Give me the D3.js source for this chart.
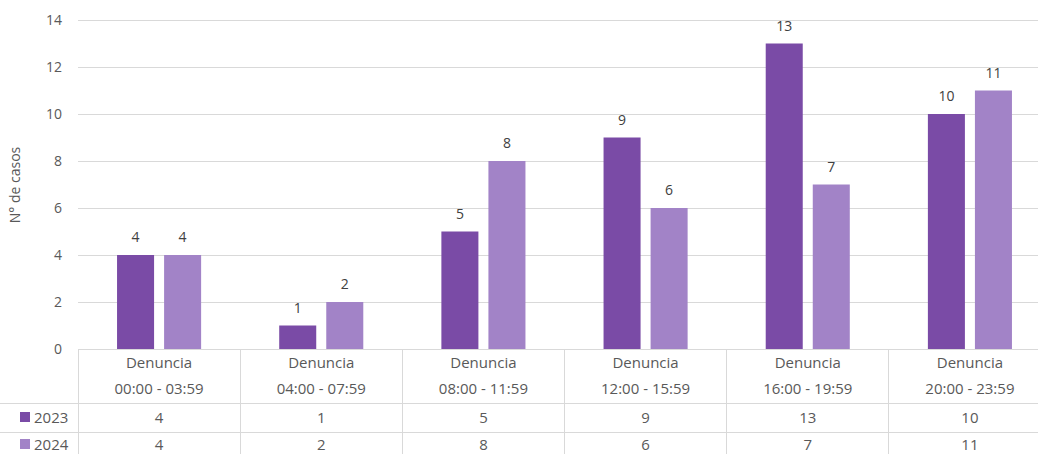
<!DOCTYPE html>
<html><head><meta charset="utf-8">
<script src="https://cdn.jsdelivr.net/npm/d3@7"></script>
<style>body{margin:0;background:#fff;overflow:hidden}svg{display:block}text{font-family:"Open Sans",sans-serif;fill:#595959}</style>
</head><body>
<svg id="c" width="1038" height="454"></svg>
<script>
const categories = ["Denuncia|00:00 - 03:59","Denuncia|04:00 - 07:59","Denuncia|08:00 - 11:59","Denuncia|12:00 - 15:59","Denuncia|16:00 - 19:59","Denuncia|20:00 - 23:59"];
const seriesNames = ["2023","2024"];
const values2023 = [4,1,5,9,13,10];
const values2024 = [4,2,8,6,7,11];
const yTicks = [0,2,4,6,8,10,12,14];
const colors = ["#7A4BA6","#A283C7"];

const svg = d3.select("#c");
const L=78, R=1051, T=20, B=349;
const x = d3.scaleBand().domain(categories).range([L,R]).paddingInner(0).paddingOuter(0);
const y = d3.scaleLinear().domain([0,14]).range([B,T]);
const xs = d3.scaleBand().domain(seriesNames).range([0,x.bandwidth()]).paddingInner(0.213).paddingOuter(0.83);

svg.append("g").selectAll("line").data(yTicks).join("line")
  .attr("x1",L).attr("x2",R).attr("y1",d=>y(d)).attr("y2",d=>y(d))
  .attr("stroke","#D9D9D9").attr("stroke-width",1).attr("shape-rendering","crispEdges");
const ya = d3.axisLeft(y).tickValues(yTicks).tickSize(0).tickPadding(16);
const yg = svg.append("g").attr("transform",`translate(${L},0)`).call(ya);
yg.select(".domain").remove();
yg.selectAll("text").style("font-size","14px").attr("fill","#595959").style("font-family","Open Sans");

svg.append("text").attr("transform","translate(20,185) rotate(-90)").attr("text-anchor","middle")
  .style("font-size","14px").text("N° de casos");

const series = [values2023, values2024];
series.forEach((vals,si)=>{
  const g = svg.append("g");
  g.selectAll("rect").data(vals).join("rect")
    .attr("x",(d,i)=>x(categories[i])+xs(seriesNames[si]))
    .attr("width",xs.bandwidth())
    .attr("y",d=>y(d)).attr("height",d=>y(0)-y(d))
    .attr("fill",colors[si]);
  g.selectAll("text").data(vals).join("text")
    .attr("x",(d,i)=>x(categories[i])+xs(seriesNames[si])+xs.bandwidth()/2)
    .attr("y",d=>y(d)-13).attr("text-anchor","middle")
    .style("font-size","14px").style("fill","#404040").text(d=>d);
});

const rowY = [349,403,432,461];
const tg = svg.append("g");
const lineC="#D9D9D9";
tg.append("line").attr("x1",L).attr("x2",R).attr("y1",rowY[0]).attr("y2",rowY[0]).attr("stroke",lineC).attr("shape-rendering","crispEdges");
[rowY[1],rowY[2]].forEach(yy=>tg.append("line").attr("x1",0).attr("x2",R).attr("y1",yy).attr("y2",yy).attr("stroke",lineC).attr("shape-rendering","crispEdges"));
categories.forEach(c=>{
  tg.append("line").attr("x1",x(c)).attr("x2",x(c)).attr("y1",rowY[0]).attr("y2",454).attr("stroke",lineC).attr("shape-rendering","crispEdges");
});
categories.forEach(c=>{
  const [a,b]=c.split("|");
  const cx=x(c)+x.bandwidth()/2;
  tg.append("text").attr("x",cx).attr("y",368).attr("text-anchor","middle").style("font-size","15px").text(a);
  tg.append("text").attr("x",cx).attr("y",394).attr("text-anchor","middle").style("font-size","15px").text(b);
});
series.forEach((vals,si)=>{
  const cy = si===0?423:450;
  tg.append("rect").attr("x",20).attr("y",cy-11).attr("width",10).attr("height",10).attr("fill",colors[si]);
  tg.append("text").attr("x",34).attr("y",cy).style("font-size","15px").text(seriesNames[si]);
  vals.forEach((v,i)=>{
    tg.append("text").attr("x",x(categories[i])+x.bandwidth()/2).attr("y",cy).attr("text-anchor","middle").style("font-size","15px").text(v);
  });
});
</script>
</body></html>
